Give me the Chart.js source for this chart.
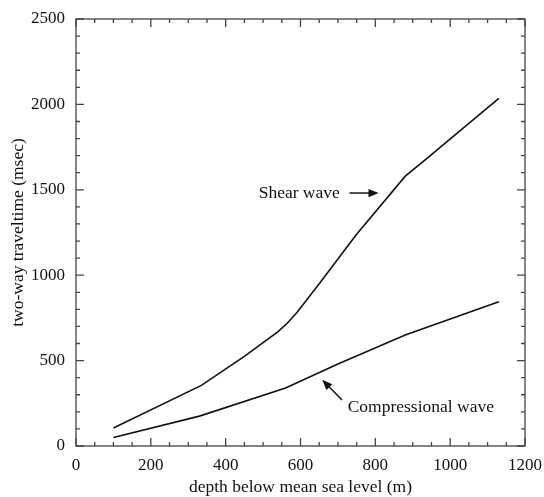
<!DOCTYPE html>
<html>
<head>
<meta charset="utf-8">
<script src="https://cdn.jsdelivr.net/npm/chart.js@4.4.0/dist/chart.umd.min.js"></script>
<style>
  html, body { margin: 0; padding: 0; background: #fff; }
  #wrap { width: 544px; height: 497px; }
</style>
</head>
<body>
<div id="wrap"><canvas id="myChart" width="544" height="497"></canvas></div>
<script>
var depthShear = [100, 335, 450, 540, 565, 590, 650, 750, 880, 930, 1130];
var timeShear  = [105, 355, 525, 670, 720, 780, 950, 1240, 1580, 1670, 2035];
var depthComp  = [100, 330, 560, 700, 880, 1130];
var timeComp   = [50, 175, 340, 480, 650, 845];
var xTicks = [0, 200, 400, 600, 800, 1000, 1200];
var yTicks = [0, 500, 1000, 1500, 2000, 2500];

var serif = '"Liberation Serif", "Times New Roman", serif';

function pairs(xs, ys) {
    var out = [];
    for (var i = 0; i < xs.length; i++) out.push({x: xs[i], y: ys[i]});
    return out;
}

function arrow(ctx, x1, y1, x2, y2) {
    var a = Math.atan2(y2 - y1, x2 - x1);
    ctx.beginPath();
    ctx.moveTo(x1, y1);
    ctx.lineTo(x2 - 6 * Math.cos(a), y2 - 6 * Math.sin(a));
    ctx.stroke();
    ctx.beginPath();
    ctx.moveTo(x2, y2);
    ctx.lineTo(x2 - 11 * Math.cos(a - 0.38), y2 - 11 * Math.sin(a - 0.38));
    ctx.lineTo(x2 - 11 * Math.cos(a + 0.38), y2 - 11 * Math.sin(a + 0.38));
    ctx.closePath();
    ctx.fill();
}

// box, inward ticks on all four sides, titles and the two labels
var frame = {
    id: 'frame',
    afterDraw: function (chart) {
        var ctx = chart.ctx, a = chart.chartArea;
        var xs = chart.scales.x, ys = chart.scales.y;
        ctx.save();
        ctx.strokeStyle = '#444';
        ctx.lineWidth = 1.3;
        ctx.strokeRect(a.left, a.top, a.right - a.left, a.bottom - a.top);
        ctx.beginPath();
        for (var v = 0; v <= 1200; v += 50) {
            var px = xs.getPixelForValue(v);
            var len = v % 200 === 0 ? 8 : 4;
            ctx.moveTo(px, a.bottom); ctx.lineTo(px, a.bottom - len);
            ctx.moveTo(px, a.top); ctx.lineTo(px, a.top + len);
        }
        for (var w = 0; w <= 2500; w += 100) {
            var py = ys.getPixelForValue(w);
            var l2 = w % 500 === 0 ? 8 : 4;
            ctx.moveTo(a.left, py); ctx.lineTo(a.left + l2, py);
            ctx.moveTo(a.right, py); ctx.lineTo(a.right - l2, py);
        }
        ctx.stroke();

        ctx.fillStyle = '#111';
        ctx.font = '17.5px ' + serif;
        ctx.textAlign = 'center';
        ctx.textBaseline = 'middle';
        ctx.fillText('depth below mean sea level (m)', (a.left + a.right) / 2, 487);
        ctx.save();
        ctx.translate(18, (a.top + a.bottom) / 2);
        ctx.rotate(-Math.PI / 2);
        ctx.fillText('two-way traveltime (msec)', 0, 0);
        ctx.restore();

        ctx.font = '17.5px ' + serif;
        ctx.textAlign = 'right';
        ctx.fillText('Shear wave', xs.getPixelForValue(705), ys.getPixelForValue(1481));
        ctx.textAlign = 'left';
        ctx.fillText('Compressional wave', xs.getPixelForValue(726), ys.getPixelForValue(228));

        ctx.strokeStyle = '#111';
        ctx.lineWidth = 1.5;
        arrow(ctx, xs.getPixelForValue(731), ys.getPixelForValue(1481),
                   xs.getPixelForValue(809), ys.getPixelForValue(1481));
        arrow(ctx, xs.getPixelForValue(711), ys.getPixelForValue(269),
                   xs.getPixelForValue(658), ys.getPixelForValue(388));
        ctx.restore();
    }
};

var ctx = document.getElementById('myChart').getContext('2d');
var myChart = new Chart(ctx, {
    type: 'line',
    data: {
        datasets: [{
            label: 'Shear wave',
            data: pairs(depthShear, timeShear),
            borderColor: '#111',
            borderWidth: 1.6,
            pointRadius: 0,
            tension: 0
        }, {
            label: 'Compressional wave',
            data: pairs(depthComp, timeComp),
            borderColor: '#111',
            borderWidth: 1.6,
            pointRadius: 0,
            tension: 0
        }]
    },
    options: {
        responsive: false,
        animation: false,
        layout: { padding: { top: 19, right: 19, left: 0, bottom: 0 } },
        plugins: { legend: { display: false }, tooltip: { enabled: false } },
        scales: {
            x: {
                type: 'linear',
                min: 0, max: 1200,
                afterBuildTicks: function (s) { s.ticks = xTicks.map(function (v) { return {value: v}; }); },
                afterFit: function (s) { s.height = 51; s.paddingLeft = 0; s.paddingRight = 0; },
                grid: { display: false, drawTicks: false },
                border: { display: false },
                ticks: { color: '#111', padding: 9, maxRotation: 0, font: { family: serif, size: 17 },
                         callback: function (v) { return String(v); } }
            },
            y: {
                type: 'linear',
                min: 0, max: 2500,
                afterBuildTicks: function (s) { s.ticks = yTicks.map(function (v) { return {value: v}; }); },
                afterFit: function (s) { s.width = 76; s.paddingTop = 0; s.paddingBottom = 0; },
                grid: { display: false, drawTicks: false },
                border: { display: false },
                ticks: { color: '#111', padding: 11, font: { family: serif, size: 17 },
                         callback: function (v) { return String(v); } }
            }
        }
    },
    plugins: [frame]
});
</script>
</body>
</html>
